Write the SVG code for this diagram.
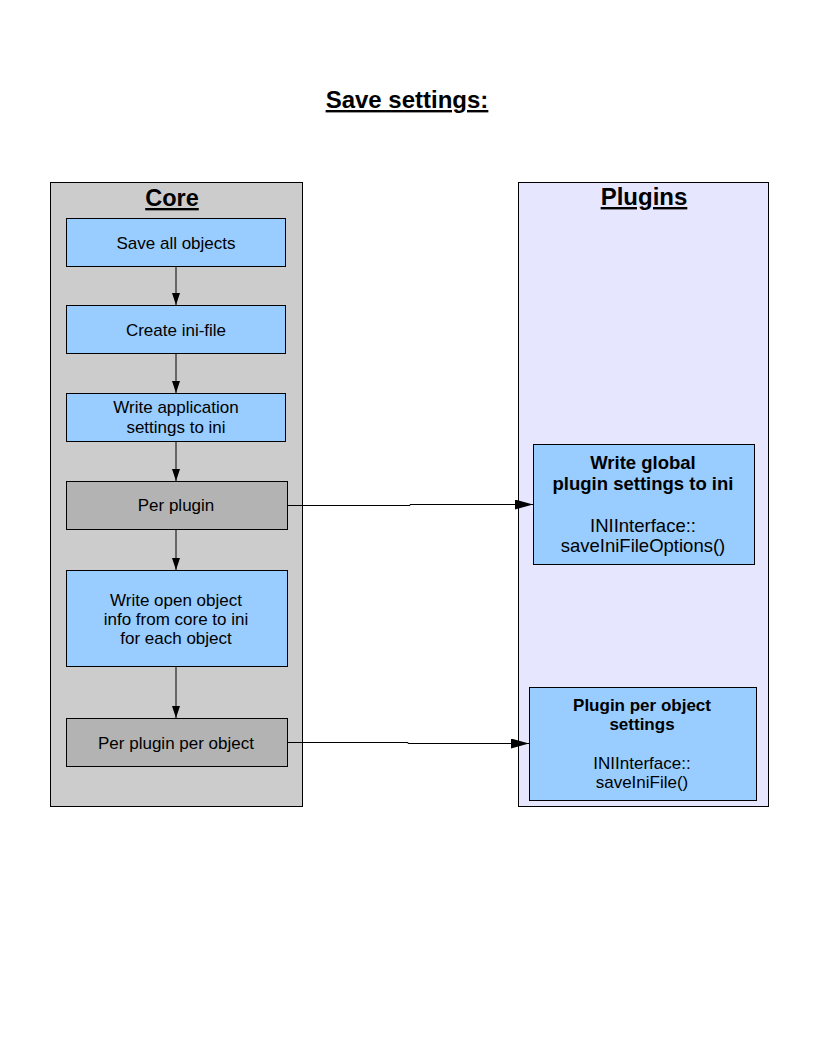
<svg xmlns="http://www.w3.org/2000/svg" width="816" height="1056" viewBox="0 0 816 1056">
<defs>
<marker id="arr" markerWidth="12" markerHeight="8" refX="12" refY="4" orient="auto" markerUnits="userSpaceOnUse">
<path d="M0,0 L12,4 L0,8 Z" fill="#000"/>
</marker>
<marker id="arrh" markerWidth="18" markerHeight="10" refX="18" refY="5" orient="auto" markerUnits="userSpaceOnUse">
<path d="M0,0 L18,5 L0,10 Z" fill="#000"/>
</marker>
<style>
text{font-family:"Liberation Sans",Arial,sans-serif;fill:#000;text-anchor:middle}
.t{font-size:17px}
.b{font-weight:bold}
.blue{fill:#99ccff;stroke:#000;stroke-width:1}
.gray{fill:#b3b3b3;stroke:#000;stroke-width:1}
.conn{stroke:#000;stroke-width:1;fill:none}
</style>
</defs>
<rect width="816" height="1056" fill="#fff"/>
<text x="407" y="108" font-size="24" class="b" text-decoration="underline">Save settings:</text>
<g id="core">
<rect x="50.5" y="182.5" width="252" height="624" fill="#cccccc" stroke="#000"/>
<text x="172" y="206" font-size="23.5" class="b" text-decoration="underline">Core</text>
</g>
<g id="plugins">
<rect x="518.5" y="182.5" width="250" height="624" fill="#e6e6ff" stroke="#000"/>
<text x="644" y="205" font-size="24" class="b" text-decoration="underline">Plugins</text>
</g>
<g id="n1"><rect class="blue" x="66.5" y="218.5" width="219" height="48"/><text class="t" x="176" y="249">Save all objects</text></g>
<g id="n2"><rect class="blue" x="66.5" y="305.5" width="219" height="48"/><text class="t" x="176" y="336">Create ini-file</text></g>
<g id="n3"><rect class="blue" x="66.5" y="393.5" width="219" height="48"/><text class="t" x="176" y="413">Write application</text><text class="t" x="176" y="433">settings to ini</text></g>
<g id="n4"><rect class="gray" x="66.5" y="481.5" width="221" height="48"/><text class="t" x="176" y="511">Per plugin</text></g>
<g id="n5"><rect class="blue" x="66.5" y="570.5" width="221" height="96"/><text class="t" x="176" y="606">Write open object</text><text class="t" x="176" y="625">info from core to ini</text><text class="t" x="176" y="644">for each object</text></g>
<g id="n6"><rect class="gray" x="66.5" y="718.5" width="221" height="48"/><text class="t" x="176" y="749">Per plugin per object</text></g>
<g id="n7"><rect class="blue" x="533.5" y="444.5" width="221" height="120"/><text x="643" y="469" font-size="18.5" class="b">Write global</text><text x="643" y="490" font-size="18.5" class="b">plugin settings to ini</text><text x="643" y="532" font-size="18.5">INIInterface::</text><text x="643" y="552" font-size="18.5">saveIniFileOptions()</text></g>
<g id="n8"><rect class="blue" x="529.5" y="687.5" width="227" height="113"/><text x="642" y="711" font-size="17" class="b">Plugin per object</text><text x="642" y="730" font-size="17" class="b">settings</text><text x="642" y="769" font-size="17">INIInterface::</text><text x="642" y="788" font-size="17">saveIniFile()</text></g>
<g id="connectors">
<line class="conn" x1="176" y1="266.5" x2="176" y2="305" marker-end="url(#arr)"/>
<line class="conn" x1="176" y1="353.5" x2="176" y2="393" marker-end="url(#arr)"/>
<line class="conn" x1="176" y1="441.5" x2="176" y2="481" marker-end="url(#arr)"/>
<line class="conn" x1="176" y1="529.5" x2="176" y2="570" marker-end="url(#arr)"/>
<line class="conn" x1="176" y1="666.5" x2="176" y2="718" marker-end="url(#arr)"/>
<polyline class="conn" points="287.5,505.5 410,505.5 410,504.5 533,504.5" marker-end="url(#arrh)"/>
<polyline class="conn" points="287.5,742.5 408,742.5 408,743.5 529,743.5" marker-end="url(#arrh)"/>
</g>
</svg>
